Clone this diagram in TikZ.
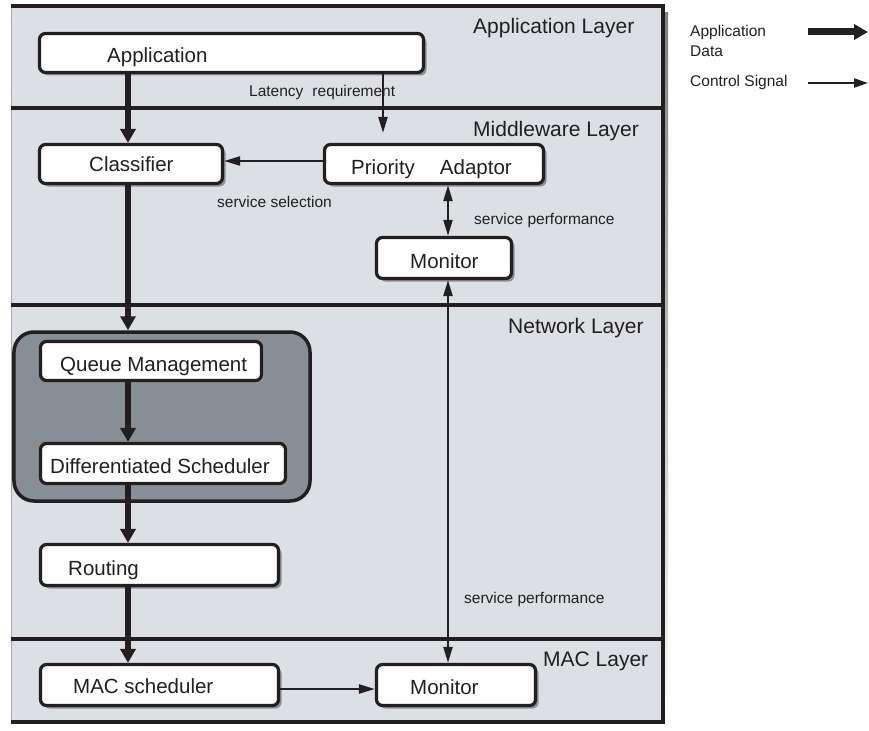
\documentclass[tikz,border=0pt]{standalone}
\usepackage{fontspec}
\setmainfont{Liberation Sans}
\usetikzlibrary{arrows.meta,shadows}

\definecolor{ink}{HTML}{231F20}
\definecolor{layerfill}{HTML}{DCDFE3}
\definecolor{groupfill}{HTML}{878E96}
\definecolor{shade}{HTML}{8A9098}
\definecolor{edge}{HTML}{A3A8AE}

\begin{document}
\begin{tikzpicture}[x=1bp,y=-1bp,
  box/.style={draw=ink, line width=3.2bp, fill=white, rounded corners=6bp, inner sep=0pt,
    general shadow={fill=shade, shadow xshift=3bp, shadow yshift=-3bp}},
  boxtext/.style={anchor=base west, inner sep=0pt, text=ink, font=\fontsize{20.5bp}{24bp}\selectfont},
  layertext/.style={anchor=base west, inner sep=0pt, text=ink, font=\fontsize{21bp}{25bp}\selectfont},
  note/.style={anchor=base west, inner sep=0pt, text=ink, font=\fontsize{15.5bp}{18bp}\selectfont},
  data/.style={draw=ink, line width=6bp, -{Triangle[length=14bp,width=15bp]}},
  ctrl/.style={draw=ink, line width=2.2bp, -{Triangle[length=16bp,width=9bp]}},
  ctrlboth/.style={draw=ink, line width=2.2bp,
    {Triangle[length=16bp,width=9bp]}-{Triangle[length=16bp,width=9bp]}},
  divider/.style={draw=ink, line width=3.5bp},
]
% canvas
\fill[white] (0,0) rectangle (869,731);
\useasboundingbox (0,0) rectangle (869,731);

% layer frame with its shadow
\fill[shade] (12,13) rectangle (668,730);
\fill[layerfill] (11,6) rectangle (663,722);
\draw[edge, line width=0.8bp] (11.5,6) -- (11.5,722);
\draw[ink, line width=4bp] (11,6) -- (663,6) -- (663,722) -- (11,722);
\draw[divider] (11,108) -- (663,108);
\draw[divider] (11,305) -- (663,305);
\draw[divider] (11,639) -- (663,639);

% layer titles
\node[layertext] (l-app) at (473,34) {Application Layer};
\node[layertext] (l-mid) at (473,137) {Middleware Layer};
\node[layertext] (l-net) at (508,333) {Network Layer};
\node[layertext] (l-mac) at (543,666) {MAC Layer};

% scheduling group
\node[draw=ink, line width=3.5bp, fill=groupfill, rounded corners=20bp,
      minimum width=296bp, minimum height=169bp, inner sep=0pt] (grp) at (162,416.5) {};

% boxes
\node[box, minimum width=384bp, minimum height=39bp] (app) at (231.5,53) {};
\node[box, minimum width=183bp, minimum height=39bp] (cls) at (131,164) {};
\node[box, minimum width=219bp, minimum height=39bp] (pa) at (434,164) {};
\node[box, minimum width=135bp, minimum height=41bp] (mon1) at (444,258) {};
\node[box, minimum width=221bp, minimum height=39bp] (qm) at (151,361) {};
\node[box, minimum width=245bp, minimum height=40bp] (ds) at (163,463.5) {};
\node[box, minimum width=238bp, minimum height=41bp] (rt) at (159.5,565) {};
\node[box, minimum width=238bp, minimum height=41bp] (mac) at (159.5,685) {};
\node[box, minimum width=159bp, minimum height=41bp] (mon2) at (456,685) {};

% box labels
\node[boxtext] (app-t) at (107,63) {Application};
\node[boxtext] (cls-t) at (89,172) {Classifier};
\node[boxtext] (pa-t) at (351,174) {Priority\hspace{25bp}Adaptor};
\node[boxtext] (mon1-t) at (410,268) {Monitor};
\node[boxtext] (qm-t) at (60,371) {Queue Management};
\node[boxtext] (ds-t) at (50,473) {Differentiated Scheduler};
\node[boxtext] (rt-t) at (68,575) {Routing};
\node[boxtext] (mac-t) at (73,693) {MAC scheduler};
\node[boxtext] (mon2-t) at (410,694) {Monitor};

% connector labels
\node[note] (n-lat) at (249,97) {Latency\hspace{9bp}requirement};
\node[note] (n-sel) at (217,207) {service selection};
\node[note] (n-perf1) at (474,224) {service performance};
\node[note] (n-perf2) at (464,603) {service performance};

% data path
\coordinate (dx) at (128,0);
\draw[data] (app.south -| dx) -- (cls.north -| dx);
\draw[data] (cls.south -| dx) -- (grp.north -| dx);
\draw[data] (qm.south -| dx) -- (ds.north -| dx);
\draw[data] (ds.south -| dx) -- (rt.north -| dx);
\draw[data] (rt.south -| dx) -- (mac.north -| dx);

% control signals
\coordinate (lx) at (383,0);
\draw[ctrl, shorten >=10bp] (app.south -| lx) -- (pa.north -| lx);
\coordinate (py) at (0,161);
\draw[ctrl] (pa.west |- py) -- (cls.east |- py);
\coordinate (cx) at (448,0);
\draw[ctrlboth] (pa.south -| cx) -- (mon1.north -| cx);
\draw[ctrlboth] (mon1.south -| cx) -- (mon2.north -| cx);
\coordinate (my) at (0,689);
\draw[ctrl] (mac.east |- my) -- (mon2.west |- my);

% legend
\node[note] (lg-a) at (690,37) {Application};
\node[note] (lg-d) at (690,57) {Data};
\node[note] (lg-c) at (690,87) {Control Signal};
\coordinate (lg-a1) at (808,32);
\coordinate (lg-a2) at (868,32);
\draw[data, line width=7bp] (lg-a1) -- (lg-a2);
\coordinate (lg-c1) at (808,83);
\coordinate (lg-c2) at (868,83);
\draw[ctrl, {-Triangle[length=14bp,width=9bp]}] (lg-c1) -- (lg-c2);
\end{tikzpicture}
\end{document}
